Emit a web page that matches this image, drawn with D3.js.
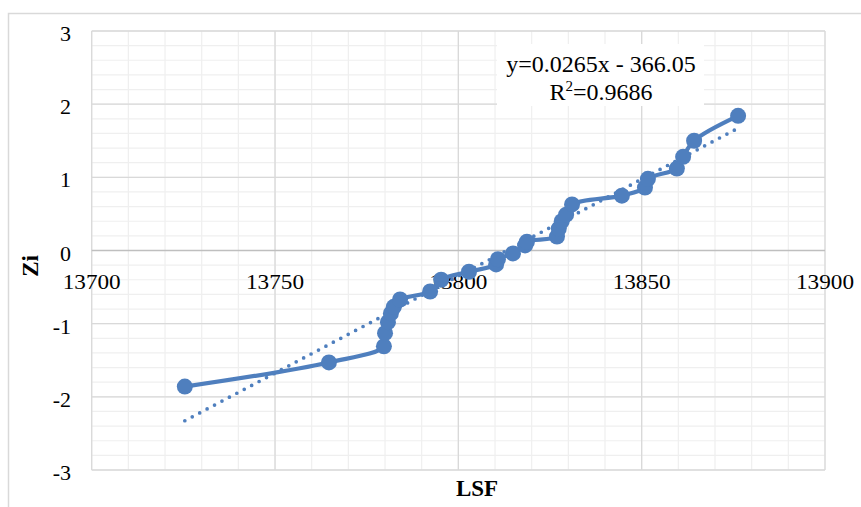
<!DOCTYPE html>
<html>
<head>
<meta charset="utf-8">
<script src="https://cdn.jsdelivr.net/npm/d3@7"></script>
<style>
  body { margin: 0; background: #fff; }
  text { font-family: "Times New Roman", Times, "Liberation Serif", serif; fill: #000; }
</style>
</head>
<body>
<div id="chart"></div>
<script>
// data
var lsf = [13725.4, 13764.7, 13779.7, 13780.0, 13780.8, 13781.6, 13782.4, 13784.1,
  13792.3, 13795.3, 13802.9, 13810.3, 13810.8, 13814.9, 13818.2, 13818.7,
  13826.9, 13827.4, 13828.2, 13829.4, 13831.0, 13844.6, 13850.9, 13851.7,
  13859.6, 13861.3, 13864.3, 13876.3];
var zi = [-1.86, -1.53, -1.31, -1.13, -0.98, -0.86, -0.77, -0.67,
  -0.56, -0.40, -0.29, -0.19, -0.12, -0.04, 0.07, 0.12,
  0.19, 0.30, 0.40, 0.49, 0.63, 0.75, 0.86, 0.98,
  1.12, 1.28, 1.50, 1.84];
var xTicks = [13700, 13750, 13800, 13850, 13900];
var yTicks = [-3, -2, -1, 0, 1, 2, 3];
var slope = 0.0265, intercept = -366.05;
var eqLines = ["y=0.0265x - 366.05", "R2=0.9686"];

var W = 861, H = 507;
var blue = "#4f7fbe";

var svg = d3.select("#chart").append("svg")
  .attr("width", W).attr("height", H);

// outer chart frame
svg.append("rect")
  .attr("x", 8.5).attr("y", 13.5)
  .attr("width", 900).attr("height", 600)
  .attr("fill", "none").attr("stroke", "#d9d9d9").attr("stroke-width", 1.5);

var x = d3.scaleLinear().domain([13700, 13900]).range([91.7, 825]);
var y = d3.scaleLinear().domain([-3, 3]).range([470, 31]);

// minor grid
var g = svg.append("g");
g.selectAll(".vminor").data(d3.range(13700, 13901, 10))
  .join("line")
  .attr("x1", d => x(d)).attr("x2", d => x(d))
  .attr("y1", y(3)).attr("y2", y(-3))
  .attr("stroke", "#efefef").attr("stroke-width", 1.2);
g.selectAll(".hminor").data(d3.range(-15, 16).map(d => d / 5))
  .join("line")
  .attr("x1", x(13700)).attr("x2", x(13900))
  .attr("y1", d => y(d)).attr("y2", d => y(d))
  .attr("stroke", "#efefef").attr("stroke-width", 1.2);

// major grid
g.selectAll(".vmajor").data(xTicks)
  .join("line")
  .attr("x1", d => x(d)).attr("x2", d => x(d))
  .attr("y1", y(3)).attr("y2", y(-3))
  .attr("stroke", "#d9d9d9").attr("stroke-width", 1.3);
g.selectAll(".hmajor").data(yTicks)
  .join("line")
  .attr("x1", x(13700)).attr("x2", x(13900))
  .attr("y1", d => y(d)).attr("y2", d => y(d))
  .attr("stroke", d => d === 0 ? "#bfbfbf" : "#d9d9d9").attr("stroke-width", d => d === 0 ? 1.6 : 1.3);

// tick labels
svg.selectAll(".ylab").data(yTicks)
  .join("text")
  .attr("x", 71).attr("y", d => y(d) + 10)
  .attr("text-anchor", "end")
  .style("font-size", "22px")
  .text(d => d);

svg.selectAll(".xlab").data(xTicks)
  .join("text")
  .attr("x", d => x(d)).attr("y", y(0) + 38)
  .attr("text-anchor", "middle")
  .style("font-size", "22px")
  .attr("textLength", 58).attr("lengthAdjust", "spacingAndGlyphs")
  .text(d => d);

// axis titles
svg.append("text")
  .attr("x", 477).attr("y", 496)
  .attr("text-anchor", "middle")
  .style("font-size", "23px").style("font-weight", "bold")
  .text("LSF");

svg.append("text")
  .attr("transform", "translate(38,266) rotate(-90)")
  .attr("text-anchor", "middle")
  .style("font-size", "23px").style("font-weight", "bold")
  .text("Zi");

// trendline (dotted)
var xr = d3.extent(lsf);
svg.append("line")
  .attr("x1", x(xr[0])).attr("y1", y(slope * xr[0] + intercept))
  .attr("x2", x(xr[1])).attr("y2", y(slope * xr[1] + intercept))
  .attr("stroke", blue).attr("stroke-width", 3.7)
  .attr("stroke-linecap", "round")
  .attr("stroke-dasharray", "0 8.4");

// data series (smoothed)
var pts = lsf.map((d, i) => [d, zi[i]]);
var line = d3.line()
  .x(d => x(d[0])).y(d => y(d[1]))
  .curve(d3.curveCatmullRom.alpha(0.5));

svg.append("path")
  .datum(pts)
  .attr("d", line)
  .attr("fill", "none").attr("stroke", blue).attr("stroke-width", 4.2);

svg.selectAll(".pt").data(pts)
  .join("circle")
  .attr("cx", d => x(d[0])).attr("cy", d => y(d[1]))
  .attr("r", 8)
  .attr("fill", blue);

// equation label
svg.append("rect")
  .attr("x", 497).attr("y", 44)
  .attr("width", 207).attr("height", 62)
  .attr("fill", "#fff");

svg.append("text")
  .attr("x", 601).attr("y", 72)
  .attr("text-anchor", "middle")
  .style("font-size", "24px")
  .text(eqLines[0]);

var t2 = svg.append("text")
  .attr("x", 601).attr("y", 100)
  .attr("text-anchor", "middle")
  .style("font-size", "24px");
t2.append("tspan").text("R");
t2.append("tspan").attr("dy", -9).style("font-size", "15px").text("2");
t2.append("tspan").attr("dy", 9).text(eqLines[1].slice(2));
</script>
</body>
</html>
